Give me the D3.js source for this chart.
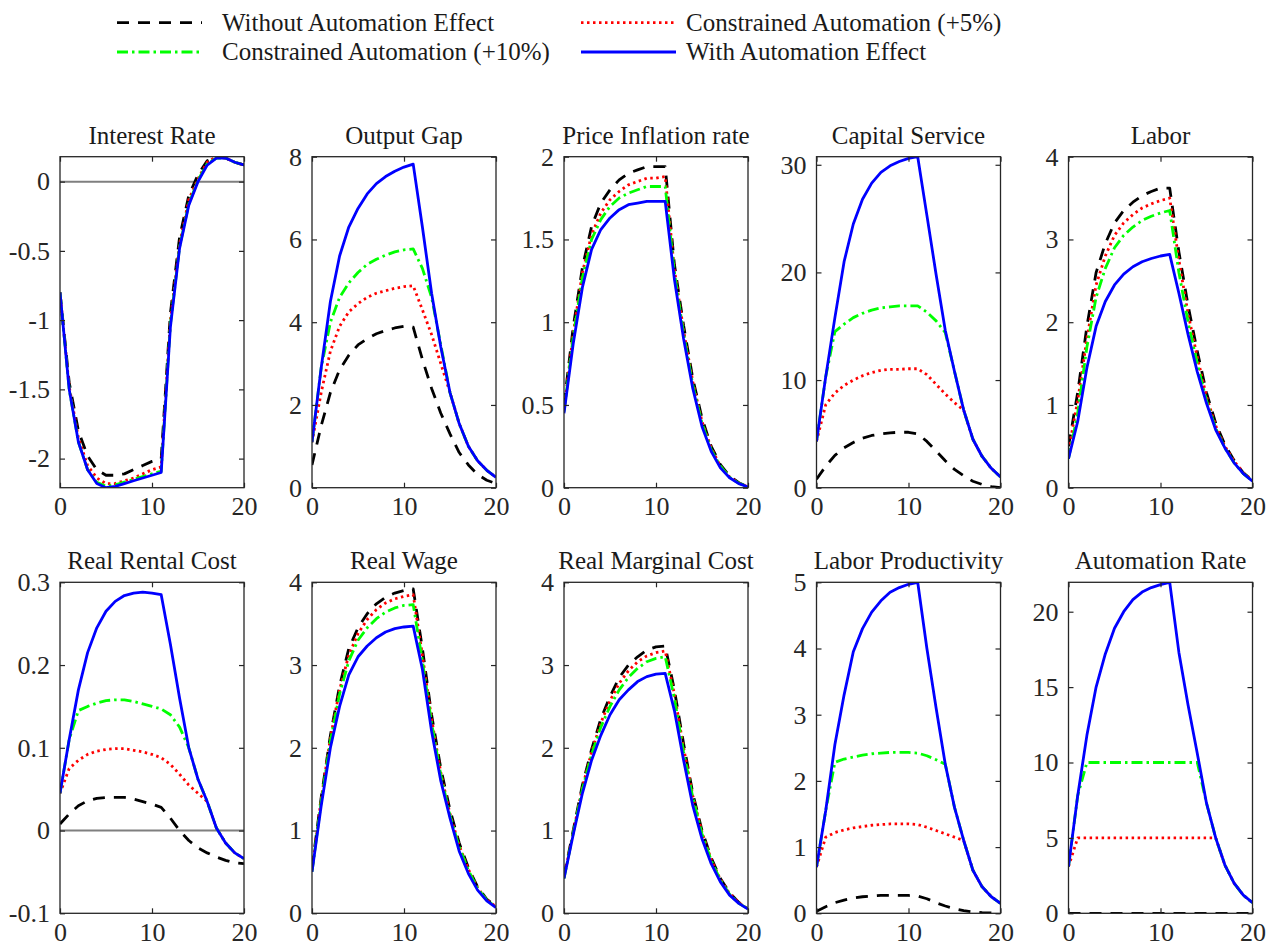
<!DOCTYPE html>
<html>
<head>
<meta charset="utf-8">
<script src="https://cdn.jsdelivr.net/npm/d3@7"></script>
<style>
  html, body { margin: 0; padding: 0; background: #fff; }
  svg { display: block; font-family: "Liberation Serif", "Times New Roman", serif; }
</style>
</head>
<body>
<svg id="chart" width="1277" height="950"></svg>
<script>
// Impulse responses over 20 quarters; each panel lists
// [without automation, +5% cap, +10% cap, with automation].
const periods = d3.range(0, 21);

const seriesNames = [
  "Without Automation Effect",
  "Constrained Automation (+5%)",
  "Constrained Automation (+10%)",
  "With Automation Effect"
];

const panelTitles = [
  "Interest Rate", "Output Gap", "Price Inflation rate", "Capital Service", "Labor",
  "Real Rental Cost", "Real Wage", "Real Marginal Cost", "Labor Productivity", "Automation Rate"
];

const interestRate = [
  [-0.80,-1.45,-1.80,-1.98,-2.08,-2.12,-2.12,-2.11,-2.08,-2.05,-2.02,-2.00,-0.95,-0.40,-0.10,0.05,0.15,0.18,0.17,0.14,0.12],
  [-0.80,-1.48,-1.85,-2.05,-2.14,-2.18,-2.18,-2.16,-2.14,-2.11,-2.08,-2.06,-1.00,-0.45,-0.13,0.02,0.14,0.18,0.17,0.14,0.12],
  [-0.80,-1.50,-1.88,-2.08,-2.17,-2.20,-2.19,-2.17,-2.15,-2.13,-2.11,-2.09,-1.03,-0.47,-0.16,0.01,0.13,0.17,0.17,0.14,0.12],
  [-0.80,-1.50,-1.88,-2.08,-2.18,-2.21,-2.20,-2.18,-2.16,-2.14,-2.12,-2.10,-1.05,-0.48,-0.17,0.00,0.12,0.17,0.17,0.14,0.12]
];
const outputGap = [
  [0.55,1.50,2.30,2.85,3.20,3.45,3.60,3.72,3.80,3.86,3.90,3.88,3.10,2.40,1.80,1.30,0.85,0.55,0.32,0.18,0.10],
  [1.10,2.30,3.30,3.90,4.25,4.45,4.60,4.70,4.76,4.82,4.86,4.88,4.30,3.70,3.00,2.30,1.55,1.00,0.65,0.42,0.25],
  [1.10,2.90,4.00,4.60,4.95,5.20,5.40,5.52,5.62,5.70,5.75,5.77,5.30,4.60,3.45,2.30,1.55,1.00,0.65,0.42,0.25],
  [1.10,2.90,4.50,5.60,6.30,6.75,7.10,7.35,7.52,7.65,7.75,7.82,6.30,4.70,3.40,2.30,1.55,1.00,0.65,0.42,0.25]
];
const priceInflation = [
  [0.50,0.97,1.33,1.58,1.72,1.80,1.86,1.90,1.92,1.94,1.94,1.94,1.35,0.98,0.66,0.42,0.25,0.14,0.07,0.03,0.005],
  [0.47,0.93,1.30,1.53,1.66,1.74,1.79,1.83,1.85,1.87,1.87,1.88,1.32,0.95,0.64,0.40,0.24,0.13,0.065,0.028,0.005],
  [0.46,0.91,1.27,1.50,1.62,1.70,1.75,1.78,1.80,1.82,1.82,1.82,1.30,0.93,0.62,0.39,0.23,0.13,0.063,0.027,0.005],
  [0.45,0.87,1.21,1.44,1.56,1.63,1.68,1.71,1.72,1.73,1.73,1.73,1.26,0.90,0.60,0.37,0.22,0.12,0.06,0.025,0.005]
];
const capitalService = [
  [0.80,2.00,3.00,3.70,4.20,4.60,4.85,5.00,5.10,5.15,5.15,5.00,4.30,3.40,2.50,1.70,1.10,0.60,0.30,0.10,0.00],
  [4.30,7.70,8.80,9.50,10.00,10.40,10.70,10.90,11.00,11.00,11.05,11.05,10.50,9.60,8.70,7.90,7.20,4.50,2.90,1.80,1.00],
  [4.30,10.30,14.50,15.20,15.80,16.20,16.50,16.70,16.80,16.90,16.90,16.90,16.30,15.50,14.40,10.80,7.20,4.50,2.90,1.80,1.00],
  [4.30,10.30,15.80,21.00,24.50,26.80,28.30,29.30,29.90,30.30,30.60,30.75,25.30,19.80,14.60,10.80,7.20,4.50,2.90,1.80,1.00]
];
const labor = [
  [0.50,1.15,1.95,2.60,2.95,3.20,3.35,3.45,3.53,3.58,3.62,3.62,2.85,2.20,1.65,1.15,0.78,0.52,0.33,0.18,0.09],
  [0.45,1.05,1.80,2.45,2.80,3.05,3.20,3.30,3.38,3.43,3.47,3.50,2.75,2.10,1.58,1.10,0.75,0.50,0.32,0.18,0.09],
  [0.35,0.90,1.70,2.30,2.65,2.90,3.05,3.15,3.23,3.28,3.32,3.35,2.60,2.00,1.50,1.05,0.72,0.48,0.30,0.17,0.08],
  [0.35,0.80,1.45,1.95,2.25,2.45,2.58,2.67,2.73,2.77,2.80,2.82,2.35,1.85,1.40,1.02,0.70,0.48,0.30,0.17,0.08]
];
const realRentalCost = [
  [0.008,0.020,0.030,0.036,0.039,0.040,0.040,0.040,0.038,0.035,0.032,0.028,0.015,0.000,-0.012,-0.021,-0.027,-0.032,-0.036,-0.039,-0.040],
  [0.045,0.075,0.085,0.092,0.096,0.098,0.099,0.099,0.097,0.095,0.092,0.088,0.080,0.068,0.055,0.045,0.035,0.003,-0.015,-0.027,-0.034],
  [0.045,0.110,0.145,0.150,0.154,0.157,0.158,0.158,0.156,0.153,0.150,0.147,0.140,0.125,0.100,0.062,0.035,0.003,-0.015,-0.027,-0.034],
  [0.045,0.110,0.170,0.215,0.245,0.265,0.277,0.284,0.287,0.288,0.287,0.285,0.225,0.160,0.100,0.062,0.035,0.003,-0.015,-0.027,-0.034]
];
const realWage = [
  [0.55,1.40,2.15,2.75,3.20,3.45,3.62,3.74,3.82,3.87,3.90,3.92,3.20,2.40,1.75,1.25,0.85,0.55,0.32,0.17,0.08],
  [0.52,1.38,2.12,2.70,3.12,3.38,3.55,3.67,3.75,3.80,3.83,3.85,3.12,2.35,1.70,1.20,0.82,0.53,0.31,0.16,0.08],
  [0.50,1.35,2.08,2.65,3.05,3.30,3.45,3.56,3.64,3.69,3.72,3.73,3.05,2.30,1.67,1.18,0.80,0.52,0.30,0.16,0.075],
  [0.50,1.30,2.00,2.50,2.88,3.10,3.23,3.33,3.40,3.44,3.46,3.47,2.95,2.20,1.60,1.15,0.75,0.48,0.28,0.15,0.07]
];
const realMarginalCost = [
  [0.45,1.00,1.55,1.98,2.35,2.62,2.85,3.00,3.10,3.18,3.22,3.23,2.70,2.05,1.45,1.00,0.67,0.42,0.25,0.13,0.06],
  [0.43,0.98,1.52,1.95,2.30,2.57,2.78,2.93,3.04,3.11,3.15,3.17,2.65,2.00,1.42,0.98,0.65,0.41,0.24,0.13,0.055],
  [0.42,0.97,1.50,1.92,2.25,2.50,2.70,2.85,2.96,3.04,3.08,3.10,2.60,1.95,1.40,0.96,0.64,0.40,0.23,0.12,0.055],
  [0.42,0.95,1.45,1.85,2.15,2.40,2.58,2.70,2.80,2.86,2.89,2.90,2.45,1.85,1.30,0.90,0.60,0.38,0.22,0.12,0.05]
];
const laborProductivity = [
  [0.03,0.10,0.16,0.20,0.23,0.25,0.26,0.27,0.27,0.27,0.27,0.26,0.22,0.16,0.11,0.07,0.04,0.02,0.01,0.005,0.00],
  [0.70,1.15,1.22,1.26,1.29,1.31,1.33,1.34,1.35,1.35,1.35,1.34,1.30,1.25,1.20,1.15,1.10,0.65,0.40,0.25,0.15],
  [0.70,1.55,2.28,2.33,2.36,2.39,2.41,2.42,2.43,2.43,2.43,2.42,2.38,2.32,2.25,1.60,1.10,0.65,0.40,0.25,0.15],
  [0.70,1.55,2.55,3.30,3.95,4.30,4.55,4.72,4.85,4.92,4.97,5.00,4.00,3.10,2.25,1.60,1.10,0.65,0.40,0.25,0.15]
];
const automationRate = [
  [0,0,0,0,0,0,0,0,0,0,0,0,0,0,0,0,0,0,0,0,0],
  [3.10,5,5,5,5,5,5,5,5,5,5,5,5,5,5,5,5.00,3.20,2.00,1.20,0.70],
  [3.10,7.80,10,10,10,10,10,10,10,10,10,10,10,10,10,7.30,5.00,3.20,2.00,1.20,0.70],
  [3.10,7.80,11.80,15.00,17.20,18.90,20.00,20.80,21.30,21.60,21.80,21.95,17.30,13.80,10.60,7.30,5.00,3.20,2.00,1.20,0.70]
];

const panelData = [
  interestRate, outputGap, priceInflation, capitalService, labor,
  realRentalCost, realWage, realMarginalCost, laborProductivity, automationRate
];

// y-axis limits: null means fit tightly to the data
const yLimits = [
  null, [0, 8], [0, 2], null, [0, 4],
  [-0.1, 0.3], [0, 4], [0, 4], [0, 5], null
];
const yTickValues = [
  [-2, -1.5, -1, -0.5, 0], [0, 2, 4, 6, 8], [0, 0.5, 1, 1.5, 2], [0, 10, 20, 30], [0, 1, 2, 3, 4],
  [-0.1, 0, 0.1, 0.2, 0.3], [0, 1, 2, 3, 4], [0, 1, 2, 3, 4], [0, 1, 2, 3, 4, 5], [0, 5, 10, 15, 20]
];
const xTickValues = [0, 10, 20];
const zeroLinePanels = [0, 5];

// line styling per series
const seriesColors = ["#000000", "#ff0000", "#00ff00", "#0000ff"];
const seriesDash = ["12,9", "2.5,3.5", "11,4,2.5,4", null];

const svg = d3.select("#chart");
svg.append("rect").attr("width", 1277).attr("height", 950).attr("fill", "#fff");

const colLeft = [60, 312, 564, 816.5, 1068.5];
const rowTop = [156.7, 582.3];
const panelW = 184;
const panelH = 331;
const axisColor = "#262626";

panelData.forEach((series, i) => {
  const col = i % 5, row = Math.floor(i / 5);
  const g = svg.append("g").attr("transform", `translate(${colLeft[col]},${rowTop[row]})`);

  const x = d3.scaleLinear().domain([0, 20]).range([0, panelW]);
  const domain = yLimits[i] || d3.extent(series.flat());
  const y = d3.scaleLinear().domain(domain).range([panelH, 0]);

  const clipId = "clip" + i;
  g.append("clipPath").attr("id", clipId)
    .append("rect").attr("width", panelW).attr("height", panelH);

  // title
  g.append("text")
    .attr("x", panelW / 2).attr("y", -13)
    .attr("text-anchor", "middle")
    .attr("font-size", 25).attr("fill", "#1a1a1a")
    .text(panelTitles[i]);

  const plot = g.append("g").attr("clip-path", `url(#${clipId})`);

  if (zeroLinePanels.includes(i)) {
    plot.append("line")
      .attr("x1", 0).attr("x2", panelW)
      .attr("y1", y(0)).attr("y2", y(0))
      .attr("stroke", "#7f7f7f").attr("stroke-width", 2);
  }

  const line = d3.line().x((d, k) => x(periods[k])).y(d => y(d));
  series.forEach((vals, s) => {
    plot.append("path")
      .attr("d", line(vals))
      .attr("fill", "none")
      .attr("stroke", seriesColors[s])
      .attr("stroke-width", 2.8)
      .attr("stroke-linejoin", "round")
      .attr("stroke-dasharray", seriesDash[s]);
  });

  // axes with inward ticks on all four sides
  const styleAxis = sel => {
    sel.select(".domain").remove();
    sel.selectAll(".tick line").attr("stroke", axisColor).attr("stroke-width", 1.2);
    sel.selectAll(".tick text")
      .attr("fill", axisColor)
      .attr("font-size", 26)
      .attr("font-family", '"Liberation Serif", "Times New Roman", serif');
  };
  g.append("g")
    .call(d3.axisLeft(y).tickValues(yTickValues[i]).tickSize(-5).tickPadding(10).tickFormat(d => String(d)))
    .call(styleAxis);
  g.append("g").attr("transform", `translate(${panelW},0)`)
    .call(d3.axisRight(y).tickValues(yTickValues[i]).tickSize(-5).tickFormat(""))
    .call(styleAxis);
  g.append("g").attr("transform", `translate(0,${panelH})`)
    .call(d3.axisBottom(x).tickValues(xTickValues).tickSize(-5).tickPadding(9).tickFormat(d => String(d)))
    .call(styleAxis);
  g.append("g")
    .call(d3.axisTop(x).tickValues(xTickValues).tickSize(-5).tickFormat(""))
    .call(styleAxis);

  g.append("rect")
    .attr("width", panelW).attr("height", panelH)
    .attr("fill", "none").attr("stroke", axisColor).attr("stroke-width", 1.3);
});

// legend
const legendItems = [
  { s: 0, x1: 117, x2: 202, tx: 222, y: 22.7 },
  { s: 1, x1: 581, x2: 676, tx: 686, y: 22.7 },
  { s: 2, x1: 117, x2: 202, tx: 222, y: 52 },
  { s: 3, x1: 581, x2: 676, tx: 686, y: 52 }
];
const legend = svg.append("g");
legendItems.forEach(it => {
  legend.append("line")
    .attr("x1", it.x1).attr("x2", it.x2).attr("y1", it.y).attr("y2", it.y)
    .attr("stroke", seriesColors[it.s]).attr("stroke-width", 2.8)
    .attr("stroke-dasharray", seriesDash[it.s]);
  legend.append("text")
    .attr("x", it.tx).attr("y", it.y).attr("dy", "0.33em")
    .attr("font-size", 25).attr("fill", "#1a1a1a")
    .text(seriesNames[it.s]);
});
</script>
</body>
</html>
